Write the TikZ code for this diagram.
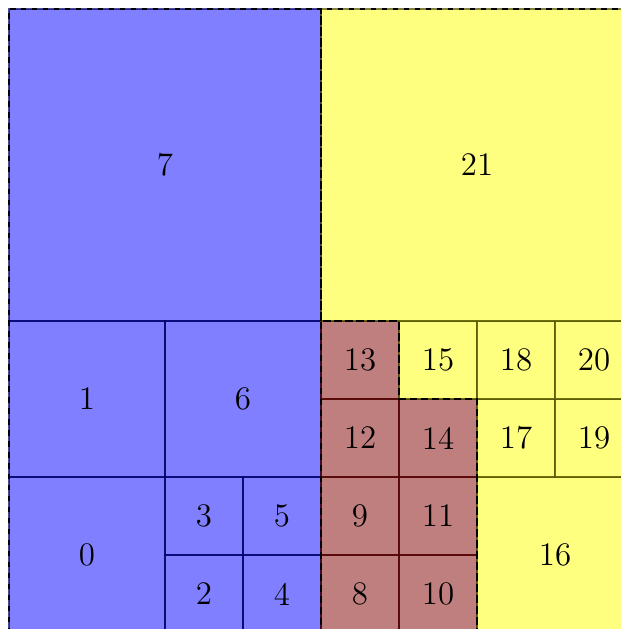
\documentclass[tikz,border=0pt]{standalone}
\usepackage{tikz}
\usetikzlibrary{positioning}
\definecolor{ZoneRed}{RGB}{128,0,0}
\definecolor{ZoneBlue}{RGB}{0,0,255}
\definecolor{ZoneYellow}{RGB}{255,255,0}
\definecolor{LineYellow}{RGB}{80,80,0}
\tikzset{
  cellB/.style={fill=ZoneBlue,fill opacity=0.5,draw=ZoneBlue!40!black,draw opacity=0.7},
  cellR/.style={fill=ZoneRed,fill opacity=0.5,draw=ZoneRed!60!black,draw opacity=0.7},
  cellY/.style={fill=ZoneYellow,fill opacity=0.5,draw=LineYellow,draw opacity=0.7},
  zone/.style={dash pattern=on 2pt off 2pt,black}
}

\begin{document}
\begin{tikzpicture}[font=\large]
      \useasboundingbox (-0.1154,0.0513) rectangle (7.846,8.1154);
      \clip (-0.1154,0.0513) rectangle (7.846,8.1154);
      % cells: x/y/size/number/colour
      \foreach \x/\y/\s/\n/\c in {0/0/2/0/B,0/2/2/1/B,2/0/1/2/B,2/1/1/3/B,3/0/1/4/B,3/1/1/5/B,
          2/2/2/6/B,0/4/4/7/B,4/0/1/8/R,4/1/1/9/R,5/0/1/10/R,5/1/1/11/R,4/2/1/12/R,4/3/1/13/R,
          5/2/1/14/R,5/3/1/15/Y,6/0/2/16/Y,6/2/1/17/Y,6/3/1/18/Y,7/2/1/19/Y,7/3/1/20/Y,4/4/4/21/Y}{
        \draw[cell\c] (\x,\y) rectangle ++(\s,\s);
        \node (n\n) at (\x+\s/2,\y+\s/2) {\n};
      }
      % zone outlines
      \draw[zone] (0,0) rectangle (4,8);
      \draw[zone] (4,0) -- (6,0) -- (6,3) -- (5,3) -- (5,4) -- (4,4) -- cycle;
      \draw[zone] (4,4) -- (4,8) -- (8,8) -- (8,0) -- (6,0) -- (6,3) -- (5,3) -- (5,4) -- cycle;
    \end{tikzpicture}
\end{document}
